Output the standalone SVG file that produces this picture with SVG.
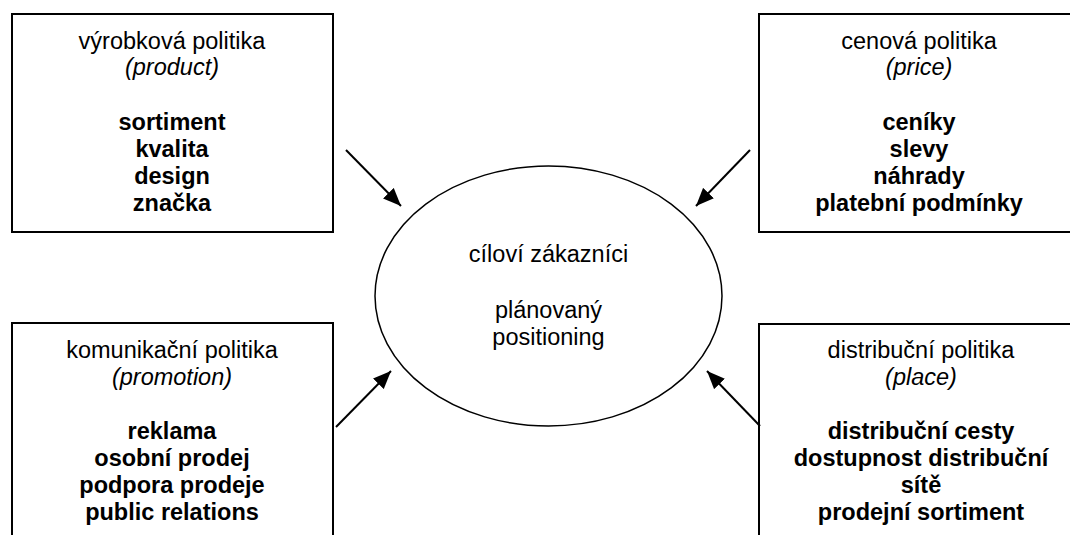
<svg xmlns="http://www.w3.org/2000/svg" width="1070" height="535" viewBox="0 0 1070 535">
<style>
.box{fill:#fff;stroke:#000;stroke-width:2}
.t{font-family:"Liberation Sans",Arial,sans-serif;font-size:23.5px;fill:#000;text-anchor:middle}
.i{font-style:italic}
.b{font-weight:bold}
.con{stroke:#000;stroke-width:2;fill:none;marker-end:url(#ah)}
</style>
<defs>
<marker id="ah" markerUnits="userSpaceOnUse" markerWidth="20" markerHeight="16" refX="18" refY="8" orient="auto">
<path d="M0,0.5 L18,8 L0,15.5 Z" fill="#000"/>
</marker>
</defs>
<rect width="1070" height="535" fill="#fff"/>
<g id="product">
<rect class="box" x="12" y="14" width="321" height="218"/>
<text class="t" x="172" y="49">výrobková politika</text>
<text class="t i" x="172" y="75">(product)</text>
<text class="t b" x="172" y="130">sortiment</text>
<text class="t b" x="172" y="157">kvalita</text>
<text class="t b" x="172" y="184">design</text>
<text class="t b" x="172" y="211">značka</text>
</g>
<g id="price">
<rect class="box" x="759" y="14" width="320" height="218"/>
<text class="t" x="919" y="49">cenová politika</text>
<text class="t i" x="919" y="75">(price)</text>
<text class="t b" x="919" y="130">ceníky</text>
<text class="t b" x="919" y="157">slevy</text>
<text class="t b" x="919" y="184">náhrady</text>
<text class="t b" x="919" y="211">platební podmínky</text>
</g>
<g id="promotion">
<rect class="box" x="12" y="323" width="321" height="230"/>
<text class="t" x="172" y="358">komunikační politika</text>
<text class="t i" x="172" y="385">(promotion)</text>
<text class="t b" x="172" y="439">reklama</text>
<text class="t b" x="172" y="466">osobní prodej</text>
<text class="t b" x="172" y="493">podpora prodeje</text>
<text class="t b" x="172" y="520">public relations</text>
</g>
<g id="place">
<rect class="box" x="759" y="324" width="320" height="230"/>
<text class="t" x="921" y="358">distribuční politika</text>
<text class="t i" x="921" y="385">(place)</text>
<text class="t b" x="921" y="439">distribuční cesty</text>
<text class="t b" x="921" y="466">dostupnost distribuční</text>
<text class="t b" x="921" y="493">sítě</text>
<text class="t b" x="921" y="520">prodejní sortiment</text>
</g>
<g id="customers">
<ellipse cx="548.5" cy="296" rx="173.5" ry="130" fill="#fff" stroke="#000" stroke-width="1.5"/>
<text class="t" x="548.5" y="262">cíloví zákazníci</text>
<text class="t" x="548.5" y="318">plánovaný</text>
<text class="t" x="548.5" y="345">positioning</text>
</g>
<g id="connectors">
<line class="con" x1="346" y1="150" x2="401" y2="206"/>
<line class="con" x1="750" y1="150" x2="696" y2="206"/>
<line class="con" x1="336" y1="427" x2="391" y2="371"/>
<line class="con" x1="760" y1="426" x2="707" y2="371"/>
</g>
</svg>
